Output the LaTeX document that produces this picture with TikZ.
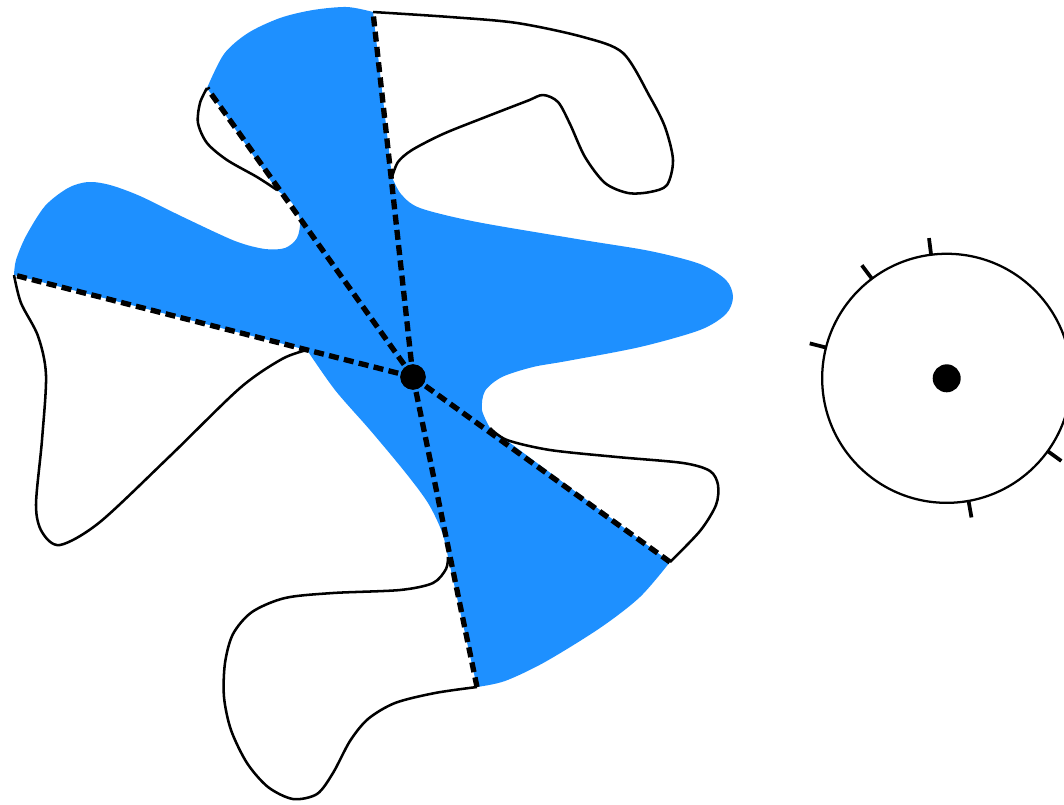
\documentclass[tikz,border=0pt]{standalone}
\usetikzlibrary{calc}
\definecolor{visblue}{RGB}{30,144,255}
\tikzset{
  outline/.style={draw=black,line width=1.9pt,line join=round},
  visarea/.style={fill=visblue},
  win/.style={draw=black,line width=4pt,dash pattern=on 7.5pt off 4pt},
  dot/.style={circle,fill=black,inner sep=0pt},
  tickmark/.style={draw=black,line width=2.8pt},
}
\begin{document}
\begin{tikzpicture}[x=0.75pt,y=-0.75pt]
\useasboundingbox (0,0) rectangle (1064,804);
% window end points and reflex points
\coordinate (E1) at (373,12);
\coordinate (E2) at (207,88);
\coordinate (E3) at (14,275);
\coordinate (E4) at (670,562);
\coordinate (E5) at (477,687);
\coordinate (R1) at (392,177);
\coordinate (R2) at (277,190);
\coordinate (R3) at (307,350);
\coordinate (R4) at (490,428);
\coordinate (R5) at (448,557);
% visible region
\fill[visarea] plot[smooth] coordinates {(373,12) (347,7) (313,10) (280,18) (248,33) (224,54) (207,88)}
 -- plot[smooth] coordinates {(277,190) (292,203) (300,220) (297,238) (285,248) (265,249) (235,241) (183,217) (140,196) (110,185) (88,182) (68,188) (45,206) (26,236) (16,260) (14,275)}
 -- plot[smooth] coordinates {(307,350) (335,390) (370,430) (405,472) (428,503) (442,532) (448,557)}
 -- plot[smooth] coordinates {(477,687) (505,681) (545,662) (600,628) (640,597) (670,562)}
 -- plot[smooth] coordinates {(490,428) (482,410) (485,391) (502,377) (533,367) (567,361) (640,347) (700,330) (726,314) (733,297) (726,280) (700,264) (650,251) (583,240) (477,222) (420,208) (401,194) (392,177)}
 -- cycle;
% invisible pockets of the boundary
\draw[outline] plot[smooth] coordinates {(373,12) (450,17) (517,23) (583,37) (623,53) (650,97) (665,127) (673,160) (667,185) (650,192) (628,193) (605,183) (585,157) (570,124) (558,102) (543,95) (527,101) (483,118) (443,134) (412,150) (398,162) (392,177)};
\draw[outline] plot[smooth] coordinates {(207,88) (200,103) (198,123) (207,143) (227,160) (257,177) (277,190)};
\draw[outline] plot[smooth] coordinates {(14,275) (21,303) (38,336) (46,375) (42,440) (36,505) (42,532) (60,545) (100,522) (170,456) (240,388) (282,359) (307,350)};
\draw[outline] plot[smooth] coordinates {(448,557) (446,569) (433,583) (400,590) (333,593) (285,598) (252,612) (233,634) (225,663) (224,697) (231,730) (247,763) (268,787) (293,799) (317,794) (333,773) (350,741) (368,719) (395,703) (435,693) (477,687)};
\draw[outline] plot[smooth] coordinates {(490,428) (507,440) (550,450) (617,457) (683,463) (710,471) (718,485) (716,505) (700,531) (670,562)};
% windows
\node[dot,minimum size=19pt] (c) at (413,377) {};
\foreach \e in {E1,E2,E3,E4,E5}{\draw[win] (c.center) -- (\e);}
\node[dot,minimum size=19pt] at (c.center) {};
% right figure
\node[circle,draw=black,line width=1.7pt,minimum size=186.8pt,inner sep=0pt] (O) at (946.7,378.3) {};
\node[dot,minimum size=21pt] (o) at (O.center) {};
\foreach \a in {97.2,126.9,165.7,-35.8,-79.9}{
  \draw[tickmark] ([shift={(\a:93pt)}]O.center) -- ([shift={(\a:106pt)}]O.center);
}
\end{tikzpicture}
\end{document}
